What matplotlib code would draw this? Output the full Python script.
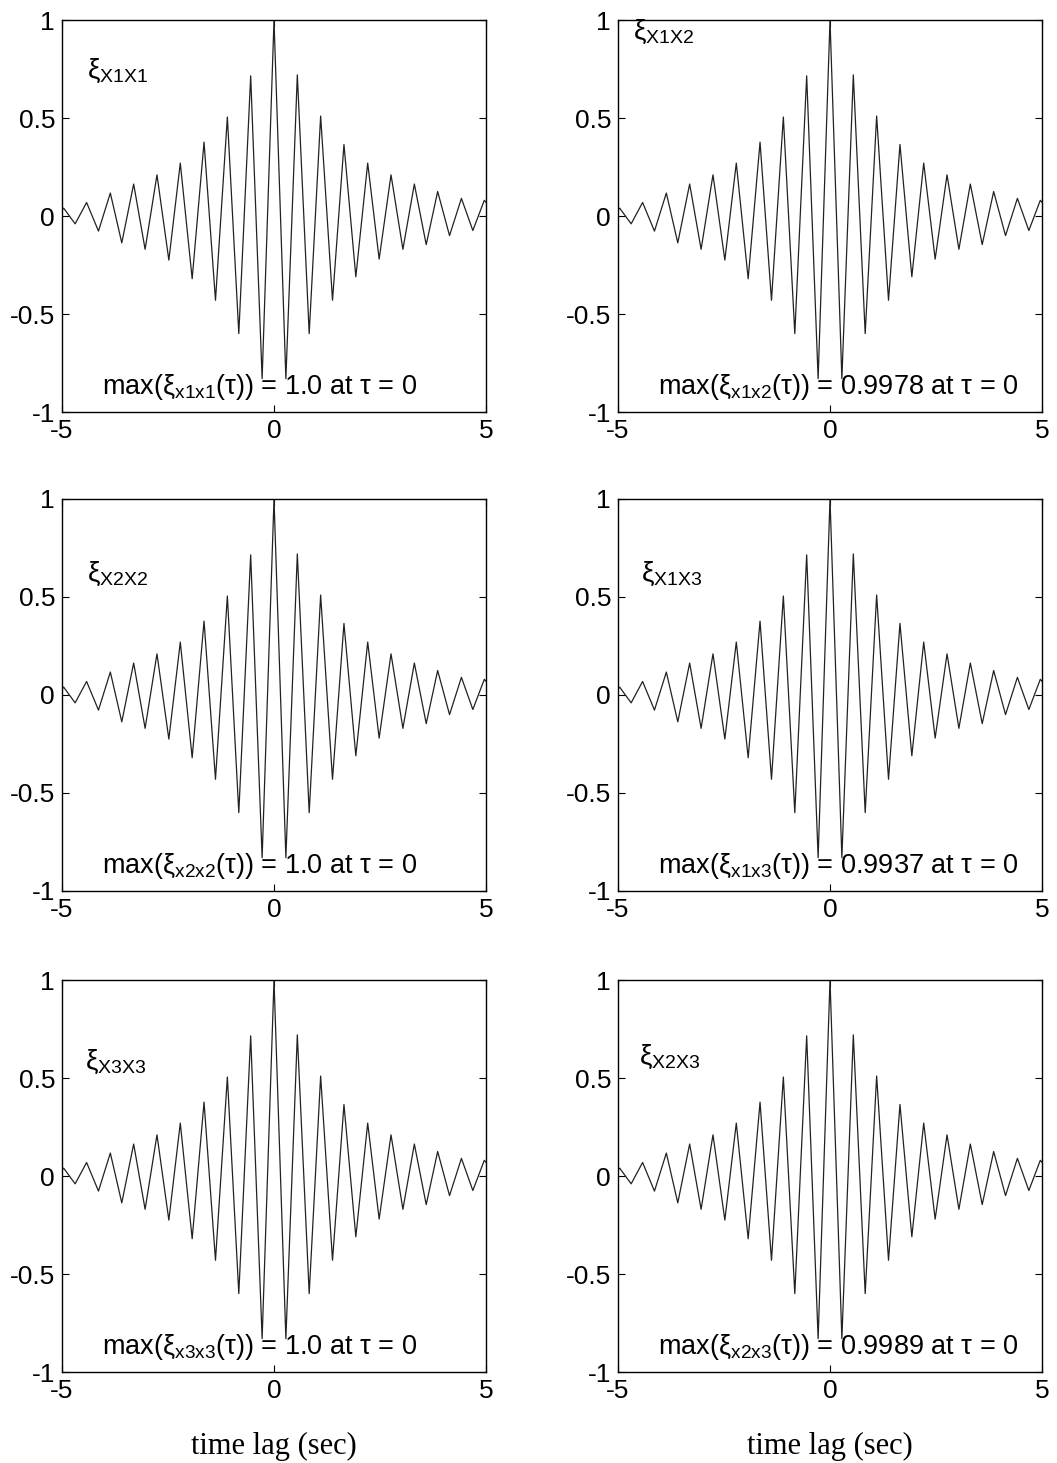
import numpy as np
import matplotlib
matplotlib.use('Agg')
import matplotlib.pyplot as plt

plt.rcParams['font.family'] = ['Liberation Sans', 'DejaVu Sans']
plt.rcParams['mathtext.fontset'] = 'custom'
plt.rcParams['mathtext.rm'] = 'Liberation Sans'
plt.rcParams['axes.unicode_minus'] = False

# Correlation curve (peaks and troughs), lag in seconds
lag = [-5.0, -4.96, -4.69, -4.42, -4.14, -3.86, -3.59, -3.31, -3.04, -2.76,
       -2.48, -2.21, -1.93, -1.65, -1.38, -1.10, -0.83, -0.55, -0.28, 0.0,
       0.28, 0.55, 0.83, 1.10, 1.38, 1.65, 1.93, 2.21, 2.48, 2.76,
       3.04, 3.31, 3.59, 3.86, 4.14, 4.42, 4.69, 4.96, 5.0]
xi = [0.03, 0.04, -0.04, 0.069, -0.077, 0.117, -0.137, 0.163, -0.17, 0.21,
      -0.225, 0.27, -0.32, 0.377, -0.43, 0.505, -0.60, 0.715, -0.83, 1.0,
      -0.83, 0.72, -0.60, 0.51, -0.43, 0.365, -0.31, 0.27, -0.22, 0.21,
      -0.17, 0.163, -0.146, 0.125, -0.10, 0.09, -0.074, 0.08, 0.07]

# panel texts, row by row (left, right)
names = ['X1X1', 'X1X2', 'X2X2', 'X1X3', 'X3X3', 'X2X3']
max_names = ['x1x1', 'x1x2', 'x2x2', 'x1x3', 'x3x3', 'x2x3']
max_vals = ['1.0', '0.9978', '1.0', '0.9937', '1.0', '0.9989']
name_pos = [(-4.4, 0.74), (-4.65, 0.94), (-4.4, 0.62), (-4.45, 0.62),
            (-4.45, 0.58), (-4.5, 0.61)]

W, H = 1057, 1463
fig = plt.figure(figsize=(W / 100, H / 100), dpi=100)

lefts = [62, 618]
tops = [20, 499, 980]
aw, ah = 424, 392

for i in range(6):
    r, c = divmod(i, 2)
    ax = fig.add_axes([lefts[c] / W, 1 - (tops[r] + ah) / H, aw / W, ah / H])
    ax.plot(lag, xi, color='#222222', lw=0.9)
    ax.set_xlim(-5, 5)
    ax.set_ylim(-1, 1)
    ax.set_xticks([-5, 0, 5])
    ax.set_yticks([-1, -0.5, 0, 0.5, 1])
    ax.set_xticklabels(['-5', '0', '5'])
    ax.set_yticklabels(['-1', '-0.5', '0', '0.5', '1'])
    ax.tick_params(direction='in', top=True, right=True, length=5,
                   labelsize=19, pad=5, width=0.8)
    for s in ax.spines.values():
        s.set_linewidth(1.0)

    nx, ny = name_pos[i]
    ax.text(nx, ny, 'ξ$_{\\mathrm{' + names[i] + '}}$', fontsize=20,
            va='center', ha='left')
    ax.text(-4.05, -0.87,
            'max(ξ$_{\\mathrm{' + max_names[i] + '}}$(τ)) = ' + max_vals[i] + ' at τ = 0',
            fontsize=19.5, va='center', ha='left')

for c in range(2):
    fig.text((lefts[c] + aw / 2) / W, 1 - 1446 / H, 'time lag (sec)',
             family='Liberation Serif', fontsize=22, ha='center', va='center')

plt.savefig('out.png', dpi=100)
